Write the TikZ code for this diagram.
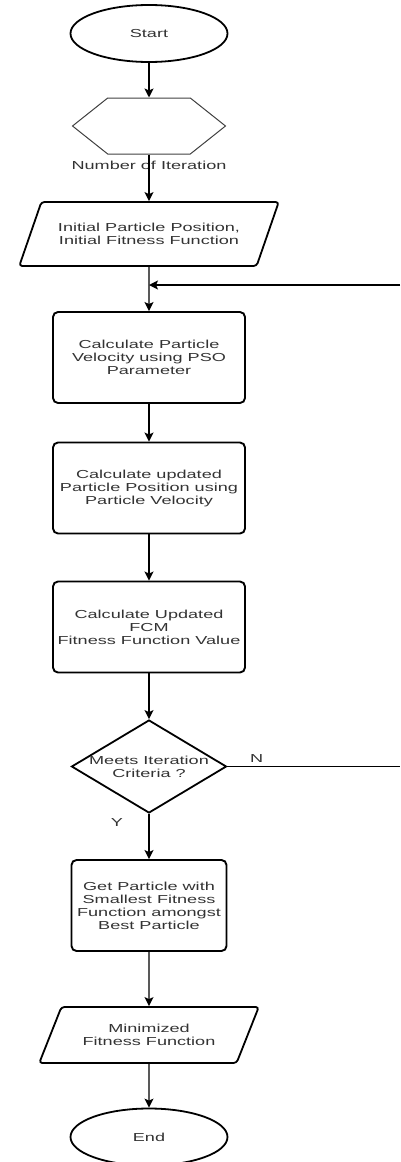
\documentclass[tikz,border=0pt]{standalone}
\usepackage{fontspec}
\setmainfont{Liberation Sans}[FakeStretch=1.56]
\usetikzlibrary{shapes.geometric,shapes.symbols,arrows.meta}
\definecolor{txtgray}{HTML}{333333}
\begin{document}
\begin{tikzpicture}[x=1pt,y=-1pt,font=\fontsize{11.6}{13}\selectfont,text=txtgray,
    term/.style = {ellipse,draw,line width=1.8pt,minimum width=157pt,minimum height=57pt,inner sep=0pt},
    hexa/.style = {signal,signal to=east and west,signal pointer angle=77,draw=black!75,line width=1pt,minimum width=153pt,minimum height=56pt,inner sep=0pt},
    io/.style = {trapezium,trapezium stretches,draw,line width=1.8pt,rounded corners=3pt,align=center,inner sep=0pt},
    proc/.style = {rectangle,draw,line width=1.9pt,rounded corners=5pt,align=center,inner sep=2pt,minimum height=91pt},
    test/.style = {diamond,draw,line width=1.8pt,minimum width=155pt,minimum height=93pt,inner sep=0pt},
    arr/.style = {line width=1.4pt,-{Stealth[length=9pt,width=9pt,inset=2pt]}}]
\useasboundingbox (0,0) rectangle (400,1162);
\node[term] (start) at (149,33.5) {Start};
\node[hexa,label={[label distance=3pt]below:Number of Iteration}] (iter) at (149,126) {};
\node[io,trapezium left angle=49,trapezium right angle=131,minimum width=260pt,minimum height=64pt] (init) at (149,234) {Initial Particle Position,\\Initial Fitness Function};
\coordinate (back) at (400,285);
\coordinate (merge) at (149,285);
\node[proc,minimum width=192pt] (vel) at (149,357.5) {Calculate Particle\\Velocity using PSO\\Parameter};
\node[proc,minimum width=192pt] (pos) at (149,488) {Calculate updated\\Particle Position using\\Particle Velocity};
\node[proc,minimum width=192pt] (fit) at (149,627) {Calculate Updated\\FCM\\Fitness Function Value};
\node[test,label={[align=center]center:Meets Iteration\\Criteria ?}] (check) at (149,766.5) {};
\coordinate (exit) at (400,766.5);
\node[proc,minimum width=155pt] (best) at (149,905.5) {Get Particle with\\Smallest Fitness\\Function amongst\\Best Particle};
\node[io,trapezium left angle=52,trapezium right angle=128,minimum width=220pt,minimum height=56pt] (minfit) at (149,1035) {Minimized\\Fitness Function};
\node[term] (stop) at (149,1137) {End};
\draw[arr] (start) -- (iter);
\draw[arr] (iter) -- (init);
\draw[arr] (init) -- (vel);
\draw[arr] (back) -- (merge);
\draw[arr] (vel) -- (pos);
\draw[arr] (pos) -- (fit);
\draw[arr] (fit) -- (check);
\draw[arr] (check) -- node[pos=0.2,left=22pt] {Y} (best);
\draw[line width=1.4pt] (check) -- node[pos=0.17,above] {N} (exit);
\draw[arr] (best) -- (minfit);
\draw[arr] (minfit) -- (stop);
\end{tikzpicture}
\end{document}
